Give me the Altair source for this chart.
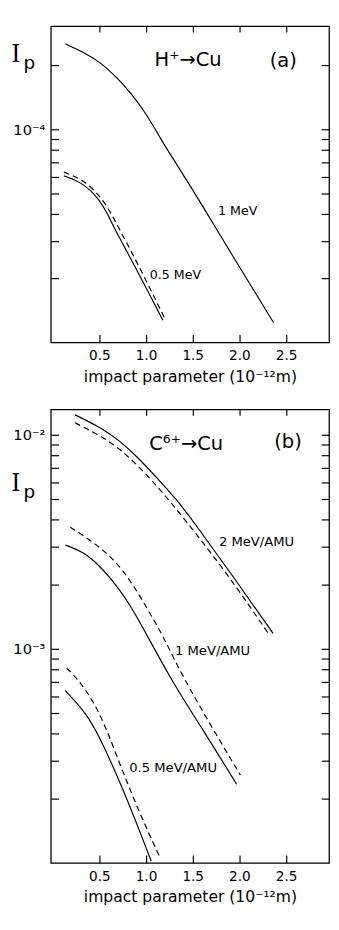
import altair as alt
import pandas as pd

# ---------------- panel (a): H+ -> Cu ----------------
a_1mev_x = [0.135, 0.326, 0.50, 0.674, 0.847, 1.021, 1.159, 1.302, 1.542, 1.75, 2.00, 2.365]
a_1mev_y = [2.52e-4, 2.31e-4, 2.08e-4, 1.78e-4, 1.47e-4, 1.15e-4, 8.97e-5, 7.14e-5, 4.86e-5, 3.42e-5, 2.26e-5, 1.24e-5]
a_05_solid_x = [0.12, 0.33, 0.50, 0.60, 0.66, 0.85, 1.18]
a_05_solid_y = [6.05e-5, 5.59e-5, 4.69e-5, 3.93e-5, 3.42e-5, 2.42e-5, 1.27e-5]
a_05_dash_x = [0.12, 0.33, 0.50, 0.62, 0.69, 0.88, 1.21]
a_05_dash_y = [6.30e-5, 5.80e-5, 4.90e-5, 4.10e-5, 3.55e-5, 2.50e-5, 1.27e-5]

# ---------------- panel (b): C6+ -> Cu ----------------
b_2_solid_x = [0.24, 0.50, 0.708, 0.917, 1.125, 1.333, 1.54, 1.89, 2.36]
b_2_solid_y = [1.236e-2, 1.087e-2, 9.45e-3, 7.80e-3, 6.22e-3, 4.96e-3, 3.75e-3, 2.31e-3, 1.18e-3]
b_2_dash_x = [0.24, 0.50, 0.708, 0.917, 1.125, 1.30, 1.50, 1.89, 2.32]
b_2_dash_y = [1.135e-2, 9.95e-3, 8.66e-3, 7.14e-3, 5.70e-3, 4.63e-3, 3.60e-3, 2.18e-3, 1.16e-3]
b_1_solid_x = [0.135, 0.326, 0.50, 0.674, 0.847, 1.26, 1.61, 1.97]
b_1_solid_y = [3.05e-3, 2.84e-3, 2.45e-3, 2.00e-3, 1.58e-3, 7.20e-4, 4.19e-4, 2.33e-4]
b_1_dash_x = [0.19, 0.326, 0.50, 0.674, 0.847, 1.021, 1.195, 1.385, 1.72, 2.01]
b_1_dash_y = [3.69e-3, 3.38e-3, 2.99e-3, 2.56e-3, 2.04e-3, 1.52e-3, 1.12e-3, 7.50e-4, 4.19e-4, 2.57e-4]
b_05_solid_x = [0.135, 0.36, 0.50, 0.78, 1.055]
b_05_solid_y = [6.37e-4, 4.99e-4, 3.91e-4, 2.09e-4, 1.02e-4]
b_05_dash_x = [0.15, 0.29, 0.50, 0.71, 0.92, 1.14]
b_05_dash_y = [8.12e-4, 7.06e-4, 5.16e-4, 2.96e-4, 1.75e-4, 1.08e-4]

# tick values
x_ticks = [0.5, 1.0, 1.5, 2.0, 2.5]
a_y_ticks = [2e-5, 3e-5, 4e-5, 5e-5, 6e-5, 7e-5, 8e-5, 9e-5, 1e-4, 2e-4]
b_y_ticks = [2e-4, 3e-4, 4e-4, 5e-4, 6e-4, 7e-4, 8e-4, 9e-4, 1e-3,
             2e-3, 3e-3, 4e-3, 5e-3, 6e-3, 7e-3, 8e-3, 9e-3, 1e-2]

# annotations
a_title_text = ["H⁺→Cu", "(a)"]
a_title_x = [1.45, 2.47]
a_title_y = [2.11e-4, 2.10e-4]
a_label_text = ["1 MeV", "0.5 MeV"]
a_label_x = [1.77, 1.04]
a_label_y = [4.13e-5, 2.06e-5]
b_title_text = ["C⁶⁺→Cu", "(b)"]
b_title_x = [1.43, 2.52]
b_title_y = [9.04e-3, 9.2e-3]
b_label_text = ["2 MeV/AMU", "1 MeV/AMU", "0.5 MeV/AMU"]
b_label_x = [1.78, 1.31, 0.82]
b_label_y = [3.14e-3, 9.8e-4, 2.77e-4]

FONT = "DejaVu Sans"
X_DOMAIN = [-0.02, 2.96]
WIDTH = 286


def lines_df(series):
    rows = []
    for name, xs, ys in series:
        for i, (x, y) in enumerate(zip(xs, ys)):
            rows.append({"series": name, "x": x, "y": y, "order": i})
    return pd.DataFrame(rows)


def label_expr(powers):
    parts = []
    for val, txt in powers:
        parts.append(f"datum.value == {val!r} ? '{txt}' : ")
    return "".join(parts) + "''"


def panel(solid, dashed, titles, labels, ydom, yticks, powers, height, ip_y, label_size):
    xs = alt.Scale(domain=X_DOMAIN, nice=False, zero=False)
    ys = alt.Scale(type="log", domain=ydom, nice=False)

    ax_bottom = alt.Axis(orient="bottom", values=x_ticks, format=".1f", offset=-8,
                         tickSize=8, domain=False, grid=False, labelPadding=7,
                         labelFontSize=14, labelFont=FONT, labelColor="black",
                         tickColor="black", tickWidth=1.2,
                         title="impact parameter (10⁻¹²m)", titleFont=FONT,
                         titleFontSize=16, titleFontWeight="normal", titleColor="black",
                         titlePadding=6)
    ax_left = alt.Axis(orient="left", values=yticks, labelExpr=label_expr(powers),
                       offset=-8, tickSize=8, domain=False, grid=False,
                       labelPadding=6, labelFontSize=15, labelFont=FONT,
                       labelColor="black", tickColor="black", tickWidth=1.2,
                       labelOverlap=False, labelFlush=False, labelBound=False, title=None)
    ax_top = alt.Axis(orient="top", values=x_ticks, labels=False, offset=-6, tickSize=6,
                      domain=False, grid=False, tickColor="black", tickWidth=1.2, title=None)
    ax_right = alt.Axis(orient="right", values=yticks, labels=False, offset=-8, tickSize=8,
                        domain=False, grid=False, tickColor="black", tickWidth=1.2, title=None)

    solid_layer = alt.Chart(solid).mark_line(color="black", strokeWidth=1.2,
                                             interpolate="basis").encode(
        x=alt.X("x:Q", scale=xs, axis=ax_bottom),
        y=alt.Y("y:Q", scale=ys, axis=ax_left),
        detail="series:N", order="order:Q")
    dashed_layer = alt.Chart(dashed).mark_line(color="black", strokeWidth=1.2,
                                               strokeDash=[6, 4],
                                               interpolate="basis").encode(
        x=alt.X("x:Q", scale=xs, axis=ax_top),
        y=alt.Y("y:Q", scale=ys, axis=ax_right),
        detail="series:N", order="order:Q")
    title_layer = alt.Chart(titles).mark_text(font=FONT, fontSize=20, color="black",
                                              align="center", baseline="middle").encode(
        x=alt.X("x:Q", scale=xs, axis=None),
        y=alt.Y("y:Q", scale=ys, axis=None), text="text:N")
    label_layer = alt.Chart(labels).mark_text(font=FONT, fontSize=label_size, color="black",
                                              align="left", baseline="middle").encode(
        x=alt.X("x:Q", scale=xs, axis=None),
        y=alt.Y("y:Q", scale=ys, axis=None), text="text:N")
    ip = pd.DataFrame({"t": ["I"]})
    ip_I = alt.Chart(ip).mark_text(font="DejaVu Serif", fontSize=24, color="black",
                                   align="center", baseline="middle").encode(
        x=alt.value(-36), y=alt.value(ip_y), text="t:N")
    ipp = pd.DataFrame({"t": ["p"]})
    ip_p = alt.Chart(ipp).mark_text(font=FONT, fontSize=19, color="black",
                                    align="center", baseline="middle").encode(
        x=alt.value(-22), y=alt.value(ip_y + 8), text="t:N")

    return alt.layer(solid_layer, dashed_layer, title_layer, label_layer, ip_I, ip_p).resolve_axis(
        x="independent", y="independent").properties(width=WIDTH, height=height)


a_solid = lines_df([("1", a_1mev_x, a_1mev_y), ("0.5", a_05_solid_x, a_05_solid_y)])
a_dash = lines_df([("0.5", a_05_dash_x, a_05_dash_y)])
b_solid = lines_df([("2", b_2_solid_x, b_2_solid_y), ("1", b_1_solid_x, b_1_solid_y),
                    ("0.5", b_05_solid_x, b_05_solid_y)])
b_dash = lines_df([("2", b_2_dash_x, b_2_dash_y), ("1", b_1_dash_x, b_1_dash_y),
                   ("0.5", b_05_dash_x, b_05_dash_y)])

a_titles = pd.DataFrame({"x": a_title_x, "y": a_title_y, "text": a_title_text})
a_labels = pd.DataFrame({"x": a_label_x, "y": a_label_y, "text": a_label_text})
b_titles = pd.DataFrame({"x": b_title_x, "y": b_title_y, "text": b_title_text})
b_labels = pd.DataFrame({"x": b_label_x, "y": b_label_y, "text": b_label_text})

pa = panel(a_solid, a_dash, a_titles, a_labels, [1e-5, 3.05e-4], a_y_ticks,
           [(1e-4, "10⁻⁴"), (1e-5, "10⁻⁵")], 325, 30, 13)
pb = panel(b_solid, b_dash, b_titles, b_labels, [1e-4, 1.31e-2], b_y_ticks,
           [(1e-2, "10⁻²"), (1e-3, "10⁻³"), (1e-4, "10⁻⁴")], 466, 77, 13.5)

chart = alt.vconcat(pa, pb, spacing=23).properties(
    padding={"left": 2, "top": 4, "right": 0, "bottom": 0},
    background="white",
).configure_view(stroke="black", strokeWidth=1.3)

chart.save("out.html", embed_options={"renderer": "svg", "actions": False})
